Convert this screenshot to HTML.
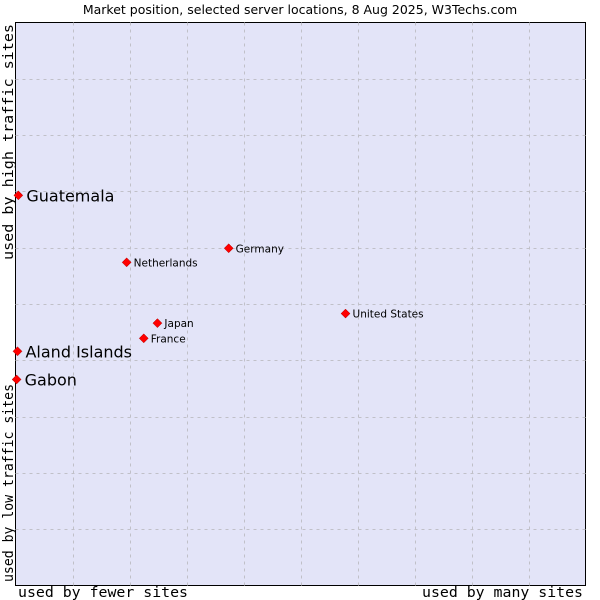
<!DOCTYPE html>
<html><head><meta charset="utf-8"><style>
body{margin:0;background:#fff;width:600px;height:600px;overflow:hidden}
svg{display:block}
text{font-family:"DejaVu Sans","Liberation Sans",sans-serif}
.mono{font-family:"DejaVu Sans Mono","Liberation Mono",monospace}
</style></head><body>
<svg id="c" width="600" height="600">
<text x="300" y="14" text-anchor="middle" font-size="12.5" fill="#000">Market position, selected server locations, 8 Aug 2025, W3Techs.com</text>
<rect x="15.5" y="22.5" width="570" height="563" fill="#e3e4f8" stroke="#000" stroke-width="1"/>
<g id="grid"></g>
<g id="pts"></g>
<text class="mono" x="18" y="597" font-size="14.5" textLength="170" lengthAdjust="spacingAndGlyphs">used by fewer sites</text>
<text class="mono" x="422" y="597" font-size="14.5" textLength="161" lengthAdjust="spacingAndGlyphs">used by many sites</text>
<text class="mono" transform="translate(13,582) rotate(-90)" font-size="14.5" textLength="198" lengthAdjust="spacingAndGlyphs">used by low traffic sites</text>
<text class="mono" transform="translate(13,260) rotate(-90)" font-size="14.5" textLength="236" lengthAdjust="spacingAndGlyphs">used by high traffic sites</text>
</svg>
<script>
const names=["Guatemala","Aland Islands","Gabon","Netherlands","Germany","United States","Japan","France"];
const xs=[0.5,0.35,0.2,19.5,37.4,57.9,24.9,22.5];
const ys=[69.3,41.6,36.6,57.4,59.9,48.3,46.6,43.9];
const big=[true,true,true,false,false,false,false,false];
const L=15.5,R=585.5,T=22.5,B=585.5;
const sx=v=>L+v/100*(R-L), sy=v=>B-v/100*(B-T);
const NS="http://www.w3.org/2000/svg";
const g=document.getElementById('grid');
for(let i=1;i<10;i++){
  const x=Math.round(L+i*(R-L)/10)+0.5, y=Math.round(T+i*(B-T)/10)+0.5;
  const a=document.createElementNS(NS,'line');
  
  
  a.setAttribute('x1',x);a.setAttribute('x2',x);a.setAttribute('y1',T);a.setAttribute('y2',B);
  a.setAttribute('stroke','#c0c0c8');a.setAttribute('stroke-dasharray','3,4');g.appendChild(a);
  const b=document.createElementNS(NS,'line');
  
  
  b.setAttribute('x1',L);b.setAttribute('x2',R);b.setAttribute('y1',y);b.setAttribute('y2',y);
  b.setAttribute('stroke','#c0c0c8');b.setAttribute('stroke-dasharray','3,4');g.appendChild(b);
}
const p=document.getElementById('pts');
names.forEach((n,i)=>{
  const x=sx(xs[i]),y=sy(ys[i]);
  const d=document.createElementNS(NS,'polygon');
  
  
  d.setAttribute('points',`${x},${y-4.5} ${x+4.5},${y} ${x},${y+4.5} ${x-4.5},${y}`);
  d.setAttribute('fill','#f00');d.setAttribute('stroke','#a00');d.setAttribute('stroke-width','0.5');
  p.appendChild(d);
  const t=document.createElementNS(NS,'text');
  
  
  t.setAttribute('x',x+(big[i]?8:7));t.setAttribute('y',y+(big[i]?6:4));
  t.setAttribute('font-size',big[i]?'16':'10.5');
  t.textContent=n;p.appendChild(t);
});
</script>
</body></html>
